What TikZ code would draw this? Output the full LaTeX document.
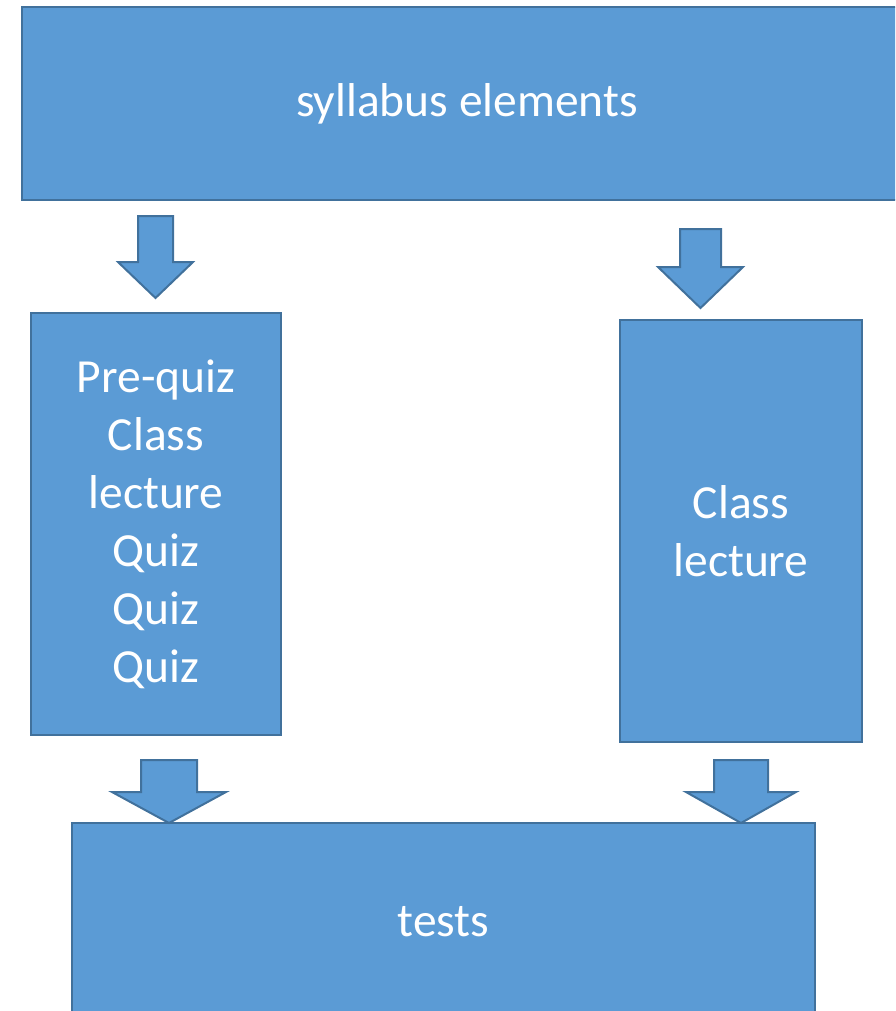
\documentclass[tikz,border=0pt]{standalone}
\usepackage{fontspec}
\setmainfont{Carlito}
\usetikzlibrary{positioning}
\definecolor{boxfill}{HTML}{5B9BD5}
\definecolor{boxline}{HTML}{41719C}
% block arrow: centre x, top y, half shaft, head y, half head, tip y
\newcommand{\blockarrow}[6]{%
  \draw[bigarrow] (#1-#3,#2) -- (#1+#3,#2) -- (#1+#3,#4) -- (#1+#5,#4)
    -- (#1,#6) -- (#1-#5,#4) -- (#1-#3,#4) -- cycle;}
\begin{document}
\begin{tikzpicture}[x=1pt,y=-1pt,
    block/.style={draw=boxline,fill=boxfill,line width=2.2pt,text=white,
      align=center,inner sep=0pt,font=\fontsize{47.5}{58}\selectfont},
    bigarrow/.style={draw=boxline,fill=boxfill,line width=2pt,line join=miter}]
  \useasboundingbox (0,0) rectangle (895,1011);
  \clip (0,0) rectangle (895,1011);
  % boxes
  \node[block,minimum width=890,minimum height=193] (syl) at (467,103.5) {syllabus elements};
  \node[block,minimum width=250,minimum height=422] (quiz) at (156,524)
    {Pre-quiz\\Class\\lecture\\Quiz\\Quiz\\Quiz};
  \node[block,minimum width=242,minimum height=422] (lect) at (741,531) {Class\\lecture};
  \node[block,minimum width=743,minimum height=198] (tests) at (443.5,922) {tests};
  % arrows
  \blockarrow{155.5}{216}{17.5}{262}{37.5}{298}
  \blockarrow{700.5}{229}{20.5}{267}{42.5}{308}
  \blockarrow{169}{760}{28}{792}{57}{823}
  \blockarrow{741}{760}{27}{792}{55}{823}
\end{tikzpicture}
\end{document}
